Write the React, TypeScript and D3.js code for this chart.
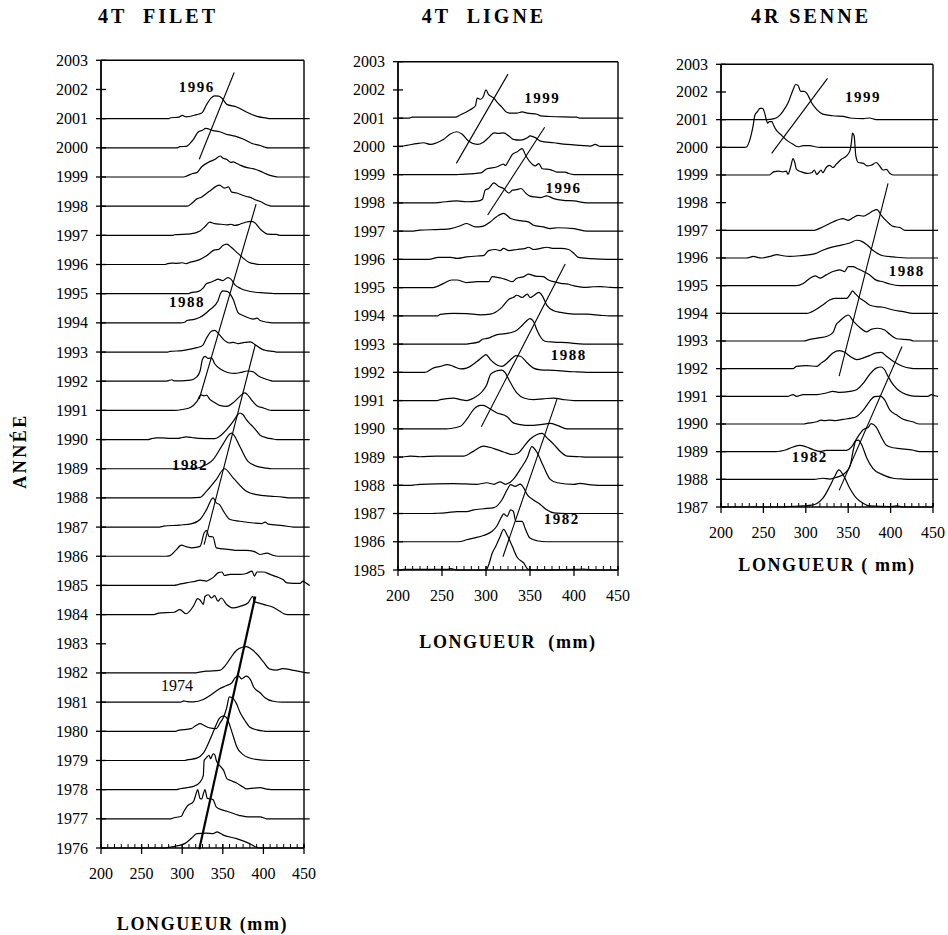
import React from 'react';
import * as d3 from 'd3';

type Pt = [number, number];

// ---------- DATA ----------
const LENGTH_TICKS = [200, 250, 300, 350, 400, 450];
const LAST_YEAR = 2003;

// curves: [year, [[length mm, relative frequency (in year-row units)], ...]]
const filetCurves: [number, Pt[]][] = [
  [2001, [[283,0],[286,0.03],[296,0.05],[300,0.11],[305,0.06],[318,0.14],[324,0.19],[330,0.48],[336,0.72],[340,0.78],[345,0.77],[349,0.7],[355,0.49],[367,0.4],[379,0.23],[392,0.08],[404,0.02],[408,0]]],
  [2000, [[294,0],[297,0.04],[305,0.05],[314,0.3],[320,0.55],[325,0.6],[329,0.67],[338,0.59],[346,0.55],[356,0.45],[365,0.4],[375,0.3],[386,0.15],[396,0.08],[402,0.02],[406,0]]],
  [1999, [[302,0],[306,0.04],[313,0.12],[318,0.15],[324,0.35],[332,0.5],[340,0.6],[347,0.72],[350,0.65],[355,0.6],[360,0.5],[363,0.52],[366,0.48],[372,0.4],[380,0.32],[388,0.28],[396,0.2],[404,0.1],[412,0.03],[418,0]]],
  [1998, [[306,0],[312,0.1],[318,0.25],[323,0.3],[333,0.5],[346,0.72],[352,0.62],[357,0.66],[361,0.48],[367,0.45],[372,0.4],[379,0.33],[384,0.3],[389,0.23],[397,0.15],[404,0.05],[410,0]]],
  [1997, [[289,0],[290,0.02],[310,0.05],[322,0.15],[328,0.3],[334,0.45],[340,0.4],[348,0.38],[355,0.36],[360,0.38],[365,0.34],[371,0.38],[378,0.45],[386,0.48],[390,0.42],[395,0.25],[400,0.12],[405,0.04],[416,0.03],[420,0]]],
  [1996, [[279,0],[282,0.03],[287,0.05],[292,0.04],[300,0.06],[305,0.03],[310,0.08],[320,0.15],[330,0.3],[340,0.5],[345,0.52],[350,0.65],[355,0.7],[360,0.6],[368,0.4],[376,0.2],[382,0.08],[390,0.02],[395,0]]],
  [1995, [[308,0],[310,0.03],[320,0.08],[326,0.2],[330,0.35],[336,0.4],[340,0.45],[344,0.5],[350,0.45],[356,0.55],[360,0.5],[365,0.3],[372,0.18],[380,0.1],[390,0.05],[400,0.03],[410,0.01],[415,0]]],
  [1994, [[298,0],[303,0.02],[306,0.08],[315,0.12],[322,0.19],[334,0.45],[344,0.75],[347,1.0],[350,1.1],[355,1.08],[358,1.03],[360,0.95],[363,0.79],[369,0.34],[375,0.25],[388,0.13],[392,0.16],[396,0.08],[405,0.02],[410,0]]],
  [1993, [[282,0],[285,0.02],[300,0.05],[318,0.15],[325,0.22],[330,0.48],[336,0.71],[340,0.74],[345,0.62],[352,0.4],[358,0.31],[363,0.33],[369,0.29],[377,0.33],[384,0.35],[390,0.25],[398,0.1],[404,0.05],[412,0.02],[416,0]]],
  [1992, [[280,0],[283,0.02],[287,0.05],[290,0.01],[310,0.04],[318,0.15],[322,0.35],[325,0.75],[328,0.85],[332,0.78],[336,0.8],[340,0.6],[348,0.4],[356,0.3],[365,0.27],[372,0.3],[380,0.35],[387,0.33],[393,0.2],[400,0.1],[408,0.03],[412,0]]],
  [1991, [[290,0],[300,0.03],[310,0.1],[318,0.3],[323,0.53],[327,0.5],[330,0.52],[334,0.38],[340,0.27],[346,0.17],[355,0.14],[363,0.27],[371,0.48],[377,0.6],[380,0.55],[385,0.37],[392,0.16],[400,0.08],[405,0.03],[410,0]]],
  [1990, [[258,0],[262,0.03],[268,0.06],[275,0.06],[285,0.04],[295,0.04],[300,0.07],[305,0.09],[312,0.07],[320,0.04],[340,0.03],[346,0.11],[355,0.35],[363,0.63],[367,0.8],[371,0.91],[375,0.85],[379,0.68],[385,0.5],[390,0.35],[396,0.15],[404,0.06],[412,0.02],[416,0]]],
  [1989, [[300,0],[318,0.02],[322,0.05],[338,0.31],[351,0.88],[359,1.2],[361,1.22],[371,0.76],[381,0.25],[392,0.08],[404,0.02],[410,0]]],
  [1988, [[300,0],[322,0.02],[330,0.23],[342,0.63],[352,1.0],[363,0.68],[379,0.23],[392,0.11],[408,0.06],[424,0.03],[430,0]]],
  [1987, [[272,0],[277,0.03],[297,0.07],[312,0.12],[322,0.26],[330,0.6],[338,1.0],[342,0.83],[346,0.77],[351,0.54],[359,0.26],[371,0.2],[388,0.14],[398,0.12],[402,0.17],[406,0.1],[424,0.05],[437,0]]],
  [1986, [[280,0],[285,0.02],[292,0.2],[299,0.38],[305,0.33],[312,0.29],[322,0.34],[327,0.8],[330,0.89],[333,0.68],[338,0.66],[342,0.29],[359,0.23],[367,0.2],[379,0.2],[388,0.17],[396,0.06],[404,0.11],[412,0.03],[418,0]]],
  [1985, [[290,0],[295,0.03],[305,0.09],[317,0.15],[322,0.18],[330,0.15],[334,0.2],[340,0.32],[344,0.43],[349,0.46],[352,0.34],[359,0.38],[371,0.38],[379,0.41],[386,0.49],[389,0.32],[392,0.46],[400,0.46],[408,0.38],[416,0.3],[424,0.2],[429,0.09],[445,0.07],[449,0.15],[452,0.09],[457,0]]],
  [1984, [[265,0],[271,0.05],[290,0.08],[297,0.17],[305,0.03],[314,0.3],[319,0.55],[322,0.5],[326,0.35],[328,0.62],[332,0.68],[336,0.57],[340,0.65],[344,0.46],[348,0.57],[355,0.34],[363,0.23],[371,0.28],[381,0.4],[387,0.63],[389,0.45],[394,0.4],[400,0.35],[412,0.25],[420,0.12],[425,0.03],[430,0]]],
  [1982, [[315,0],[320,0.02],[330,0.06],[346,0.09],[353,0.25],[359,0.49],[367,0.78],[374,0.88],[379,0.9],[385,0.82],[392,0.65],[400,0.38],[408,0.13],[416,0.1],[424,0.15],[437,0.09],[450,0.02],[456,0]]],
  [1981, [[298,0],[302,0.04],[306,0.02],[314,0.01],[326,0.09],[336,0.26],[346,0.46],[355,0.57],[361,0.66],[365,0.83],[369,0.91],[373,0.8],[379,0.89],[384,0.77],[388,0.52],[396,0.32],[402,0.15],[412,0.03],[424,0]]],
  [1980, [[292,0],[295,0.03],[311,0.09],[317,0.2],[322,0.26],[327,0.2],[332,0.13],[342,0.09],[346,0.26],[351,0.49],[355,0.83],[358,1.18],[363,1.12],[367,0.94],[371,0.66],[377,0.38],[383,0.15],[392,0.05],[400,0.01],[404,0]]],
  [1979, [[303,0],[306,0.02],[318,0.08],[326,0.25],[334,0.7],[340,1.1],[346,1.45],[351,1.53],[355,1.45],[359,1.17],[363,0.82],[367,0.48],[375,0.2],[388,0.05],[408,0]]],
  [1978, [[293,0],[297,0.03],[314,0.11],[322,0.26],[326,0.49],[327,1.0],[330,1.1],[333,1.18],[335,1.06],[338,1.23],[340,1.2],[342,1.0],[346,0.83],[351,0.66],[355,0.38],[359,0.32],[367,0.23],[375,0.09],[379,0.03],[396,0.07],[404,0.02],[416,0]]],
  [1977, [[286,0],[289,0.03],[299,0.09],[302,0.25],[306,0.43],[314,0.6],[317,0.85],[319,1.0],[322,0.7],[324,0.68],[326,0.85],[328,1.0],[331,0.7],[338,0.66],[342,0.4],[350,0.3],[355,0.26],[370,0.12],[380,0.07],[396,0.07],[404,0]]],
  [1976, [[278,0],[285,0.03],[295,0.08],[303,0.15],[312,0.35],[318,0.49],[330,0.51],[338,0.49],[343,0.55],[350,0.45],[367,0.32],[383,0.15],[392,0.02],[396,0]]],
];

const ligneCurves: [number, Pt[]][] = [
  [2001, [[212,0],[216,0.035],[265,0.035],[271,0.12],[282,0.3],[288,0.44],[290,0.71],[294,0.67],[297,0.77],[300,1.0],[303,0.83],[306,0.77],[309,0.71],[312,0.59],[318,0.39],[324,0.2],[328,0.18],[335,0.18],[341,0.22],[347,0.18],[358,0.14],[362,0.08],[373,0.06],[403,0.035],[407,0]]],
  [2000, [[201,0],[210,0.035],[221,0.1],[229,0.13],[237,0.07],[244,0.13],[252,0.25],[259,0.43],[267,0.52],[273,0.43],[280,0.19],[290,0.07],[297,0.15],[303,0.31],[309,0.48],[314,0.46],[320,0.48],[326,0.37],[331,0.25],[339,0.22],[347,0.31],[350,0.37],[356,0.31],[362,0.19],[377,0.13],[392,0.07],[407,0.035],[419,0.01],[424,0.07],[430,0]]],
  [1999, [[265,0],[271,0.01],[294,0.06],[301,0.21],[312,0.27],[320,0.37],[322,0.32],[326,0.51],[330,0.72],[335,0.8],[341,0.92],[345,0.69],[350,0.45],[356,0.31],[360,0.39],[364,0.21],[373,0.18],[381,0.09],[390,0.09],[394,0.04],[400,0]]],
  [1998, [[240,0],[248,0.02],[267,0.07],[278,0.04],[290,0.06],[296,0.13],[299,0.45],[303,0.51],[309,0.71],[314,0.59],[320,0.51],[326,0.35],[330,0.45],[335,0.47],[340,0.51],[345,0.35],[350,0.24],[356,0.21],[362,0.19],[369,0.25],[377,0.15],[388,0.09],[400,0.07],[415,0]]],
  [1997, [[215,0],[225,0.035],[248,0.06],[260,0.09],[271,0.19],[278,0.27],[288,0.15],[297,0.18],[305,0.33],[312,0.51],[320,0.63],[328,0.45],[339,0.37],[348,0.33],[354,0.21],[365,0.15],[373,0.09],[381,0.12],[400,0.09],[415,0]]],
  [1996, [[235,0],[246,0.07],[260,0.07],[267,0.035],[278,0.09],[290,0.12],[297,0.13],[303,0.31],[311,0.35],[316,0.31],[320,0.39],[326,0.31],[335,0.35],[345,0.39],[348,0.43],[354,0.35],[362,0.39],[369,0.43],[377,0.39],[385,0.39],[394,0.35],[400,0.21],[405,0.07],[415,0.035],[430,0.01],[445,0]]],
  [1995, [[240,0],[244,0.035],[252,0.15],[261,0.27],[267,0.27],[278,0.18],[290,0.21],[303,0.21],[307,0.39],[311,0.37],[318,0.33],[324,0.27],[330,0.21],[335,0.33],[343,0.39],[348,0.48],[356,0.41],[365,0.39],[371,0.27],[377,0.21],[385,0.15],[392,0.13],[400,0.06],[411,0.01],[422,0.03],[430,0.035],[441,0.01],[450,0]]],
  [1994, [[245,0],[248,0.05],[263,0.09],[278,0.08],[294,0.035],[305,0.06],[318,0.3],[326,0.59],[331,0.65],[335,0.73],[341,0.65],[347,0.77],[350,0.65],[354,0.71],[360,0.83],[364,0.71],[369,0.38],[377,0.18],[385,0.12],[400,0.06],[415,0.06],[430,0.02],[440,0]]],
  [1993, [[278,0],[280,0.01],[292,0.08],[296,0.17],[301,0.2],[305,0.24],[311,0.32],[316,0.35],[324,0.38],[330,0.42],[335,0.49],[341,0.66],[346,0.82],[350,0.9],[354,0.8],[358,0.49],[362,0.25],[367,0.1],[377,0.07],[392,0.05],[411,0]]],
  [1992, [[230,0],[233,0.02],[240,0.15],[248,0.21],[256,0.27],[263,0.21],[271,0.12],[278,0.15],[290,0.39],[297,0.57],[300,0.63],[305,0.45],[312,0.27],[318,0.21],[324,0.33],[330,0.51],[334,0.59],[339,0.57],[347,0.33],[354,0.15],[362,0.09],[377,0.07],[400,0.02],[415,0]]],
  [1991, [[245,0],[248,0.035],[263,0.09],[271,0.035],[278,0],[286,0.09],[296,0.33],[301,0.57],[305,0.92],[311,1.04],[318,1.08],[322,0.98],[326,0.74],[335,0.27],[343,0.09],[354,0.035],[365,0.06],[377,0.09],[388,0.035],[400,0]]],
  [1990, [[255,0],[260,0.01],[271,0.09],[278,0.33],[286,0.69],[294,0.83],[297,0.83],[303,0.74],[312,0.57],[324,0.43],[331,0.21],[339,0.15],[350,0.12],[362,0.15],[373,0.19],[381,0.12],[392,0]]],
  [1989, [[201,0],[210,0.02],[214,0.035],[225,0.01],[244,0.035],[275,0.035],[286,0.21],[297,0.39],[309,0.3],[320,0.18],[330,0.09],[337,0.15],[343,0.37],[350,0.63],[358,0.8],[364,0.84],[369,0.69],[377,0.45],[385,0.18],[392,0.035],[407,0.01],[415,0]]],
  [1988, [[215,0],[225,0.035],[263,0.06],[290,0.035],[301,0.09],[309,0.035],[316,0.12],[322,0.035],[331,0.21],[339,0.57],[347,0.98],[352,1.37],[358,1.16],[365,0.69],[373,0.21],[381,0.09],[400,0.035],[407,0.07],[415,0.035],[430,0]]],
  [1987, [[235,0],[244,0.01],[256,0.035],[267,0.07],[278,0.07],[286,0.13],[297,0.17],[309,0.21],[318,0.48],[324,0.84],[328,1.02],[333,0.96],[339,1.04],[343,0.9],[347,0.66],[354,0.48],[362,0.31],[369,0.13],[377,0.02],[392,0]]],
  [1986, [[265,0],[271,0.01],[278,0.07],[286,0.13],[297,0.22],[307,0.37],[312,0.54],[318,0.9],[320,0.99],[324,0.9],[328,1.13],[331,1.08],[334,0.72],[341,0.72],[345,0.43],[350,0.13],[358,0.035],[369,0]]],
  [1985, [[201,0],[206,0.02],[256,0.02],[260,0.05],[267,0],[300,0],[303,0.18],[307,0.59],[311,0.83],[316,1.18],[320,1.44],[324,1.24],[330,0.83],[335,0.47],[343,0.24],[348,0.02],[354,0],[400,0.02],[411,0.035],[422,0]]],
];

const senneCurves: [number, Pt[]][] = [
  [2001, [[249,0],[258,0.01],[265,0.06],[270,0.18],[273,0.3],[279,0.6],[285,1.08],[288,1.27],[291,1.23],[294,1.02],[298,1.02],[301,0.96],[307,0.6],[313,0.36],[320,0.2],[332,0.14],[344,0.12],[352,0.06],[368,0.04],[375,0.06],[383,0]]],
  [2000, [[228,0],[230,0.01],[234,0.27],[236,0.5],[238,0.8],[240,1.17],[243,1.29],[246,1.41],[249,1.41],[251,1.29],[253,1.05],[255,0.87],[257,0.93],[260,0.93],[262,0.8],[265,0.63],[271,0.45],[277,0.27],[285,0.11],[291,0.02],[297,0.06],[305,0.06],[311,0.02],[317,0]]],
  [1999, [[257,0],[262,0.11],[268,0.14],[273,0.11],[277,0.14],[279,0.02],[282,0.27],[285,0.59],[287,0.45],[289,0.2],[295,0.11],[301,0.06],[307,0.08],[310,0.18],[313,0.02],[315,0.08],[318,0.18],[320,0.08],[324,0.27],[328,0.35],[332,0.27],[336,0.39],[342,0.57],[348,0.69],[352,0.87],[354,1.23],[355,1.51],[357,1.41],[359,0.69],[362,0.45],[368,0.42],[372,0.33],[377,0.35],[383,0.45],[387,0.33],[391,0.18],[395,0.2],[399,0.06],[403,0]]],
  [1997, [[310,0],[317,0.08],[324,0.18],[332,0.3],[344,0.42],[350,0.36],[356,0.46],[362,0.54],[368,0.51],[374,0.6],[379,0.7],[384,0.75],[389,0.54],[395,0.34],[403,0.14],[411,0.1],[417,0]]],
  [1996, [[230,0],[234,0.02],[238,0.06],[243,0.02],[248,0],[258,0.06],[266,0.12],[273,0.08],[281,0.06],[293,0.08],[305,0.12],[311,0.16],[320,0.28],[332,0.4],[344,0.48],[352,0.54],[360,0.64],[366,0.6],[372,0.48],[379,0.28],[391,0.08],[403,0.04],[419,0]]],
  [1995, [[289,0],[297,0.08],[305,0.27],[311,0.35],[317,0.27],[324,0.39],[332,0.51],[340,0.57],[346,0.51],[350,0.69],[356,0.69],[360,0.63],[368,0.51],[375,0.39],[383,0.2],[391,0.14],[399,0.06],[411,0]]],
  [1994, [[301,0],[311,0.12],[320,0.3],[328,0.48],[334,0.54],[348,0.54],[353,0.72],[355,0.81],[358,0.72],[364,0.54],[370,0.42],[375,0.3],[383,0.24],[391,0.22],[403,0.12],[415,0.06],[426,0]]],
  [1993, [[297,0],[305,0.06],[317,0.12],[324,0.16],[332,0.3],[336,0.6],[340,0.72],[347,0.9],[350,0.94],[356,0.72],[364,0.48],[372,0.33],[377,0.42],[385,0.46],[393,0.4],[399,0.24],[407,0.08],[423,0.04],[427,0]]],
  [1992, [[285,0],[289,0.08],[301,0.11],[313,0.08],[318,0.2],[324,0.33],[332,0.57],[340,0.65],[346,0.59],[352,0.45],[360,0.33],[368,0.39],[375,0.47],[383,0.57],[389,0.59],[395,0.45],[403,0.27],[415,0.08],[423,0.02],[430,0]]],
  [1991, [[279,0],[281,0.02],[285,0.06],[289,0],[297,0.06],[313,0.06],[324,0.12],[332,0.18],[340,0.14],[352,0.18],[360,0.24],[368,0.48],[375,0.78],[383,1.02],[389,1.06],[393,0.96],[397,0.72],[403,0.42],[411,0.18],[419,0.06],[427,0.01],[444,0],[448,0.06],[452,0.02],[456,0]]],
  [1990, [[298,0],[301,0.02],[313,0.08],[318,0.14],[322,0.12],[328,0.14],[335,0.12],[344,0.17],[352,0.2],[360,0.27],[368,0.51],[375,0.81],[381,0.99],[388,1.01],[393,0.87],[399,0.51],[407,0.33],[415,0.17],[426,0.08],[434,0]]],
  [1989, [[265,0],[270,0.02],[277,0.07],[285,0.17],[293,0.23],[301,0.17],[309,0.07],[317,0.01],[324,0.05],[348,0.05],[354,0.17],[360,0.47],[368,0.8],[374,0.89],[377,1.01],[383,0.89],[389,0.53],[395,0.23],[403,0.14],[411,0.11],[427,0.05],[434,0]]],
  [1988, [[310,0],[320,0.04],[328,0.01],[336,0.07],[346,0.22],[352,0.46],[356,1.06],[359,1.39],[362,1.42],[366,1.24],[372,0.76],[379,0.4],[391,0.16],[403,0.04],[415,0.01],[427,0]]],
  [1987, [[275,0],[277,0.01],[297,0.04],[307,0.07],[313,0.13],[320,0.31],[328,0.73],[334,1.1],[339,1.34],[344,1.16],[352,0.67],[360,0.31],[368,0.13],[375,0.04],[399,0.01],[407,0.04],[415,0]]],
];

// cohort lines: [length1, year1, length2, year2]
const filetCohortLines: [number, number, number, number][] = [
  [321, 1999.61, 364, 2002.58],
  [321, 1991.39, 391, 1998.07],
  [327, 1986.4, 390, 1993.25],
  [321, 1975.96, 390, 1984.62],
];
const ligneCohortLines: [number, number, number, number][] = [
  [266.3, 1999.4, 325, 2002.56],
  [301.9, 1997.57, 366.7, 2000.68],
  [294.7, 1990.07, 390, 1995.84],
  [319.3, 1985.47, 380.7, 1991.05],
];
const senneCohortLines: [number, number, number, number][] = [
  [259.7, 1999.78, 325.6, 2002.49],
  [339.3, 1991.73, 397, 1998.7],
  [339.3, 1987.6, 413.5, 1992.8],
];

// cohort labels: [text, length, year]
const filetCohortLabels: [string, number, number][] = [
  ['1996', 318, 2001.92],
  ['1988', 306, 1994.56],
  ['1982', 309.6, 1988.94],
  ['1974', 293.6, 1981.37],
];
const ligneCohortLabels: [string, number, number][] = [
  ['1999', 364, 2001.55],
  ['1996', 388, 1998.34],
  ['1988', 394, 1992.44],
  ['1982', 386, 1986.62],
];
const senneCohortLabels: [string, number, number][] = [
  ['1999', 367.6, 2001.65],
  ['1988', 419, 1995.36],
  ['1982', 304.8, 1988.62],
];

// ---------- LAYOUT ----------
const FONT = "'Liberation Serif', 'Times New Roman', Times, serif";

interface PanelCfg {
  title: string; titleX: number;
  left: number; right: number; top: number; bottom: number;
  firstYear: number; tail: number;
  curves: [number, Pt[]][];
  lines: [number, number, number, number][];
  labels: [string, number, number][];
  heavyLine: number; plainLabel: string;
  xTitle: string; xTitleY: number;
}

const panels: PanelCfg[] = [
  { title: '4T  FILET', titleX: 158, left: 101, right: 304, top: 60.3, bottom: 848, firstYear: 1976, tail: 457,
    curves: filetCurves, lines: filetCohortLines, labels: filetCohortLabels, heavyLine: 3, plainLabel: '1974',
    xTitle: 'LONGUEUR (mm)', xTitleY: 930 },
  { title: '4T  LIGNE', titleX: 484, left: 398, right: 618, top: 61.7, bottom: 570, firstYear: 1985, tail: 456,
    curves: ligneCurves, lines: ligneCohortLines, labels: ligneCohortLabels, heavyLine: -1, plainLabel: '',
    xTitle: 'LONGUEUR  (mm)', xTitleY: 648 },
  { title: '4R SENNE', titleX: 811, left: 721, right: 933, top: 64.3, bottom: 507, firstYear: 1987, tail: 456,
    curves: senneCurves, lines: senneCohortLines, labels: senneCohortLabels, heavyLine: -1, plainLabel: '',
    xTitle: 'LONGUEUR ( mm)', xTitleY: 571 },
];

function Panel({ cfg }: { cfg: PanelCfg }) {
  const x = d3.scaleLinear().domain([200, 450]).range([cfg.left, cfg.right]);
  const y = d3.scaleLinear().domain([cfg.firstYear, LAST_YEAR]).range([cfg.bottom, cfg.top]);
  const line = d3.line<Pt>().x(d => x(d[0])).y(d => y(d[1])).curve(d3.curveMonotoneX);
  const years = d3.range(cfg.firstYear, LAST_YEAR + 1);
  const minor = d3.range(0, 31).map(i => 200 + (i * 250) / 30);

  return (
    <g>
      <text x={cfg.titleX} y={23} textAnchor="middle" fontFamily={FONT} fontSize={20} fontWeight="bold"
        letterSpacing={3} style={{ whiteSpace: 'pre' }}>{cfg.title}</text>

      {/* curves */}
      {cfg.curves.map(([yr, pts]) => {
        const end = yr === cfg.firstYear ? 450 : cfg.tail;
        const all: Pt[] = [[200, 0], ...pts];
        if (all[all.length - 1][0] < end) all.push([end, 0]);
        const data: Pt[] = all.filter(p => p[0] <= end).map(p => [p[0], yr + p[1]] as Pt);
        return <path key={yr} d={line(data) || ''} fill="none" stroke="#000" strokeWidth={1.2} strokeLinejoin="round" />;
      })}

      {/* frame */}
      <line x1={cfg.left} x2={cfg.left} y1={cfg.top} y2={cfg.bottom} stroke="#000" strokeWidth={1.8} />
      <line x1={cfg.left} x2={cfg.right} y1={cfg.top} y2={cfg.top} stroke="#000" strokeWidth={1.4} />
      <line x1={cfg.right} x2={cfg.right} y1={cfg.top} y2={cfg.bottom} stroke="#000" strokeWidth={1.4} />
      <line x1={cfg.left} x2={cfg.right} y1={cfg.bottom} y2={cfg.bottom} stroke="#000" strokeWidth={1.6} />

      {/* y ticks */}
      {years.map(yr => (
        <g key={yr}>
          <line x1={cfg.left - 5} x2={cfg.left + 5} y1={y(yr)} y2={y(yr)} stroke="#000" strokeWidth={1.3} />
          <text x={cfg.left - 13} y={y(yr) + 5.5} textAnchor="end" fontFamily={FONT} fontSize={16}>{yr}</text>
        </g>
      ))}

      {/* x ticks */}
      {minor.map((m, i) => (
        <line key={'m' + i} x1={x(m)} x2={x(m)} y1={cfg.bottom - 4} y2={cfg.bottom} stroke="#000" strokeWidth={1} />
      ))}
      {LENGTH_TICKS.map(t => (
        <g key={t}>
          <line x1={x(t)} x2={x(t)} y1={cfg.bottom - 4} y2={cfg.bottom + 6} stroke="#000" strokeWidth={1.3} />
          <text x={x(t)} y={cfg.bottom + 31} textAnchor="middle" fontFamily={FONT} fontSize={16}>{t}</text>
        </g>
      ))}

      {/* cohort lines */}
      {cfg.lines.map((l, i) => (
        <line key={'c' + i} x1={x(l[0])} y1={y(l[1])} x2={x(l[2])} y2={y(l[3])} stroke="#000"
          strokeWidth={i === cfg.heavyLine ? 2.2 : 1.1} />
      ))}
      {cfg.labels.map(([t, lx, ly], i) => (
        <text key={'l' + i} x={x(lx)} y={y(ly)} textAnchor="middle" fontFamily={FONT}
          fontSize={t === cfg.plainLabel ? 16 : 15} fontWeight={t === cfg.plainLabel ? 'normal' : 'bold'}
          letterSpacing={t === cfg.plainLabel ? 0 : 1.5}>{t}</text>
      ))}

      <text x={(cfg.left + cfg.right) / 2} y={cfg.xTitleY} textAnchor="middle" fontFamily={FONT} fontSize={18}
        fontWeight="bold" letterSpacing={1.6} style={{ whiteSpace: 'pre' }}>{cfg.xTitle}</text>
    </g>
  );
}

export default function App() {
  return (
    <svg width={948} height={935} viewBox="0 0 948 935"
      style={{ position: 'absolute', left: 0, top: 0, background: '#fff' }}>
      <rect width={948} height={935} fill="#fff" />
      {panels.map((p, i) => <Panel key={i} cfg={p} />)}
      <text transform="translate(25.5,451) rotate(-90)" textAnchor="middle" fontFamily={FONT} fontSize={18}
        fontWeight="bold" letterSpacing={2.5}>ANNÉE</text>
    </svg>
  );
}
